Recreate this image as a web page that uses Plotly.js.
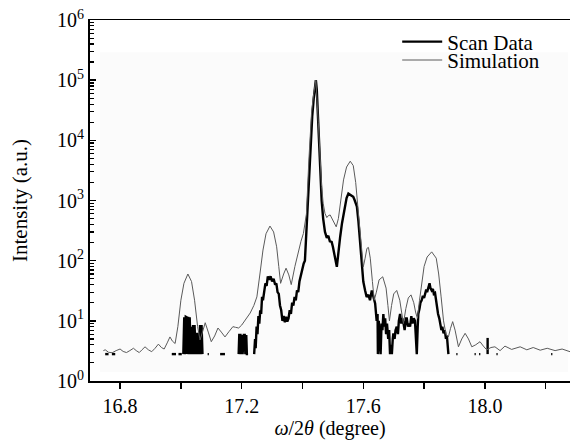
<!DOCTYPE html>
<html>
<head>
<meta charset="utf-8">
<script src="https://cdn.plot.ly/plotly-3.0.1.min.js"></script>
<style>html,body{margin:0;padding:0;background:#fff;}#chart{width:571px;height:443px;}</style>
</head>
<body>
<div id="chart"></div>
<script>
// ---- Simulation curve (thin gray) ----
const simX = [16.745,16.751,16.762,16.774,16.787,16.8,16.81,16.821,16.832,16.844,16.853,16.863,16.872,16.882,16.893,16.904,16.915,16.926,16.936,16.945,16.955,16.964,16.972,16.981,
  16.99,17.0,17.01,17.023,17.035,17.045,17.055,17.063,17.071,17.08,17.09,17.1,17.111,17.122,17.133,17.145,17.158,17.171,17.18,17.19,17.2,17.21,17.22,17.228,17.24,17.25,17.26,17.27,17.28,17.293,17.305,17.315,17.322,17.328,17.338,17.346,17.355,17.363,17.375,17.387,17.395,17.403,17.413,17.421,17.43,17.437,17.444,17.452,17.458,17.463,17.468,17.474,17.48,17.485,17.491,17.5,17.508,17.511,17.518,17.525,17.535,17.545,17.557,17.567,17.575,17.582,17.589,17.595,17.6,17.606,17.612,17.617,17.623,17.63,17.636,17.643,17.652,17.664,17.675,17.681,17.686,17.693,17.7,17.71,17.72,17.726,17.732,17.74,17.748,17.757,17.766,17.772,17.778,17.785,17.792,17.8,17.81,17.825,17.84,17.848,17.856,17.864,17.872,17.88,17.887,17.894,17.902,17.913,17.924,17.935,17.946,17.957,17.97,17.984,17.995,18.006,18.02,18.033,18.05,18.066,18.088,18.116,18.138,18.159,18.182,18.205,18.231,18.254,18.28];
const simY = [3.2,3.3,3.0,2.95,3.2,3.4,3.1,2.97,3.2,3.5,3.2,2.97,3.3,3.7,3.3,3.07,3.5,4.1,3.6,3.4,4.3,5.4,4.6,4.2,
  8,22,42,60,45,22,8,4.8,6.5,9.3,6.5,4.5,5.6,7.6,6.5,5.4,6.6,8,7.8,7.6,8.5,10,12,13.5,18,25,60,150,280,376,300,170,80,42,60,75,58,40,80,150,210,283,600,4700,30000,60000,100000,20000,4000,1700,900,610,520,560,575,470,380,365,500,1000,2200,3600,4500,3800,2000,800,283,120,79,110,160,166,110,45,22,30,48,54,35,18,10,18,28,32,22,14,9,16,24,27,20,14,11,22,45,80,115,140,110,60,25,10,6,5.4,7.5,9.7,7,3.7,5,6.2,5,3.7,4,4.5,3.8,3.3,3.6,3.7,3.2,3.8,3.35,3.7,3.3,3.6,3.25,3.5,3.2,3.4,3.07];

// ---- Scan data (thick black), null = dropout gap ----
const scanX = [16.751,16.762,null,16.773,16.784,null,
  16.97,16.984,null,16.992,17.003,null,
  17.008,17.011,17.013,17.016,17.019,17.021,17.024,17.027,17.029,17.032,17.034,17.036,17.04,17.042,17.045,17.048,17.052,17.055,17.058,17.061,17.063,17.066,17.068,17.071,null,
  17.088,17.092,null,17.129,17.145,null,
  17.19,17.192,17.196,17.198,17.2,17.203,17.207,17.21,17.212,17.215,17.217,17.221,null,
  17.241,17.244,17.246,17.249,17.252,17.255,17.258,17.261,17.264,17.267,17.27,17.274,17.278,17.282,17.286,17.29,17.295,17.3,17.305,17.31,17.314,17.318,17.322,17.326,17.33,17.334,17.338,17.342,17.346,17.35,17.354,17.358,17.362,17.366,17.37,17.374,17.378,17.382,17.386,17.39,17.395,17.4,17.404,17.408,17.416,17.424,17.432,17.437,17.441,17.444,17.447,17.452,17.458,17.463,17.468,17.474,17.48,17.485,17.49,17.496,17.5,17.504,17.507,17.51,17.513,17.517,17.52,17.524,17.53,17.535,17.54,17.545,17.551,17.556,17.562,17.567,17.572,17.579,17.584,17.589,17.592,17.595,17.6,17.606,17.611,17.617,17.622,17.628,17.633,17.639,17.644,17.647,
  17.648,17.651,17.654,17.657,17.66,17.663,17.666,17.669,17.672,17.675,17.678,17.682,17.685,17.688,17.691,17.694,17.697,17.699,17.703,17.706,17.71,17.714,17.717,17.721,17.725,17.728,17.732,17.736,17.74,17.743,17.747,17.75,17.754,17.758,17.762,17.766,17.77,17.773,17.776,17.779,17.781,17.785,17.788,17.792,17.796,17.8,17.803,17.807,17.81,17.814,17.818,17.821,17.825,17.829,17.832,17.836,17.839,17.842,17.846,17.85,17.853,17.857,17.86,17.864,17.868,17.872,17.875,17.878,17.88,null,
  17.906,17.91,null,17.966,17.97,null,17.981,17.985,null,18.009,18.009,null,18.038,18.042,null,18.218,18.222];
const scanY = [2.8,2.8,null,2.8,2.8,null,
  2.8,2.8,null,2.8,2.8,null,
  2.8,11.5,2.8,11.7,11.5,2.8,11.7,2.8,11.5,2.8,8,2.8,8.5,2.8,8.5,2.8,6.3,2.8,6.3,2.8,8.5,2.8,8.5,2.8,null,
  2.8,2.8,null,2.8,2.8,null,
  2.8,5.8,5.8,2.8,5.8,2.8,5.8,5.8,2.8,5.8,2.8,2.8,null,
  2.8,5,3.5,8,6,12,9,15,13,25,22,35,42,38,55,48,55,45,50,40,42,30,28,18,15,10,12,9.5,11.7,9.7,11,15,13,20,18,25,22,32,30,45,60,80,90,100,600,4700,25000,50000,90000,100000,70000,16600,3500,1000,500,300,240,260,210,205,170,130,116,90,79,120,180,250,420,610,850,1100,1300,1250,1200,1150,1000,790,450,220,120,79,45,32,25,27,22,32,24,19.5,10,13,
  2.8,10,5,2.8,9,7,13,8,11,6,9,5,7,2.8,4,2.8,5,6.2,5,7,8,6,10,13,9,11,9.4,7,11,11,8,9,8,12,9,11,10,6,2.8,8,13,16,20,22,26,24,29,33,30,37,42,35,32,34,28,29,22,17,13,11,9.4,7,8,6.2,7,5,5.7,4,2.8,null,
  2.8,2.8,null,2.8,2.8,null,2.8,2.8,null,2.8,5.2,null,2.8,2.8,null,2.8,2.8];

// ---- Tick labels ----
const xTickVals = [16.8,17.2,17.6,18.0];
const xTickText = ['16.8','17.2','17.6','18.0'];
const xMinorVals = [17.0,17.4,17.8,18.2];
const yTickVals = [1,10,100,1000,10000,100000,1000000];
const yTickText = ['10<sup>0</sup>','10<sup>1</sup>','10<sup>2</sup>','10<sup>3</sup>','10<sup>4</sup>','10<sup>5</sup>','10<sup>6</sup>'];

const yMinorVals = [];
for (let d = 0; d < 6; d++) for (let k = 2; k <= 9; k++) yMinorVals.push(k * Math.pow(10, d));

const serif = '"Liberation Serif", "Times New Roman", serif';

const traces = [
  {x: scanX, y: scanY, type: 'scatter', mode: 'lines', name: 'Scan Data',
   line: {color: '#000', width: 2.4}, connectgaps: false, legend: 'legend'},
  {x: simX, y: simY, type: 'scatter', mode: 'lines', name: 'Simulation',
   line: {color: '#5a5a5a', width: 1}, legend: 'legend2'}
];

const layout = {
  width: 571, height: 443,
  margin: {l: 90, r: 1, t: 20, b: 62},
  paper_bgcolor: '#fff', plot_bgcolor: '#fff',
  font: {family: serif, color: '#000', size: 20},
  showlegend: true,
  legend: {x: 0.64, y: 0.996, xanchor: 'left', yanchor: 'top', bgcolor: 'rgba(0,0,0,0)', itemwidth: 40,
           font: {family: serif, size: 21, color: '#000'}},
  legend2: {x: 0.64, y: 0.945, xanchor: 'left', yanchor: 'top', bgcolor: 'rgba(0,0,0,0)', itemwidth: 40,
           font: {family: serif, size: 21, color: '#000'}},
  xaxis: {
    range: [16.701, 18.28], showline: true, linecolor: '#000', linewidth: 1.5, mirror: true,
    ticks: 'outside', ticklen: 6, tickwidth: 1.5, tickcolor: '#000', automargin: true,
    tickmode: 'array', tickvals: xTickVals, ticktext: xTickText,
    minor: {ticks: 'outside', ticklen: 6, tickwidth: 1.5, tickcolor: '#000', tickmode: 'array', tickvals: xMinorVals, showgrid: false},
    showgrid: false, zeroline: false,
    tickfont: {family: serif, size: 20, color: '#000'},
    title: {text: '<i>ω</i>/2<i>θ</i> (degree)', font: {family: serif, size: 20, color: '#000'}, standoff: 0}
  },
  yaxis: {
    type: 'log', range: [0, 6], showline: true, linecolor: '#000', linewidth: 2,
    ticks: 'inside', ticklen: 6, tickwidth: 1.5, tickcolor: '#000',
    tickmode: 'array', tickvals: yTickVals, ticktext: yTickText,
    minor: {ticks: 'inside', ticklen: 3.5, tickwidth: 1.2, tickcolor: '#000', tickmode: 'array', tickvals: yMinorVals, showgrid: false},
    showgrid: false, zeroline: false,
    tickfont: {family: serif, size: 20, color: '#000'},
    title: {text: 'Intensity (a.u.)', font: {family: serif, size: 21, color: '#000'}, standoff: 24}
  },
  shapes: [{type: 'rect', xref: 'paper', yref: 'paper', x0: 0.021, x1: 0.996, y0: 0.025, y1: 0.911,
            fillcolor: '#fbfbfb', line: {width: 0}, layer: 'below'}]
};

Plotly.newPlot('chart', traces, layout, {displayModeBar: false, staticPlot: true});
</script>
</body>
</html>
